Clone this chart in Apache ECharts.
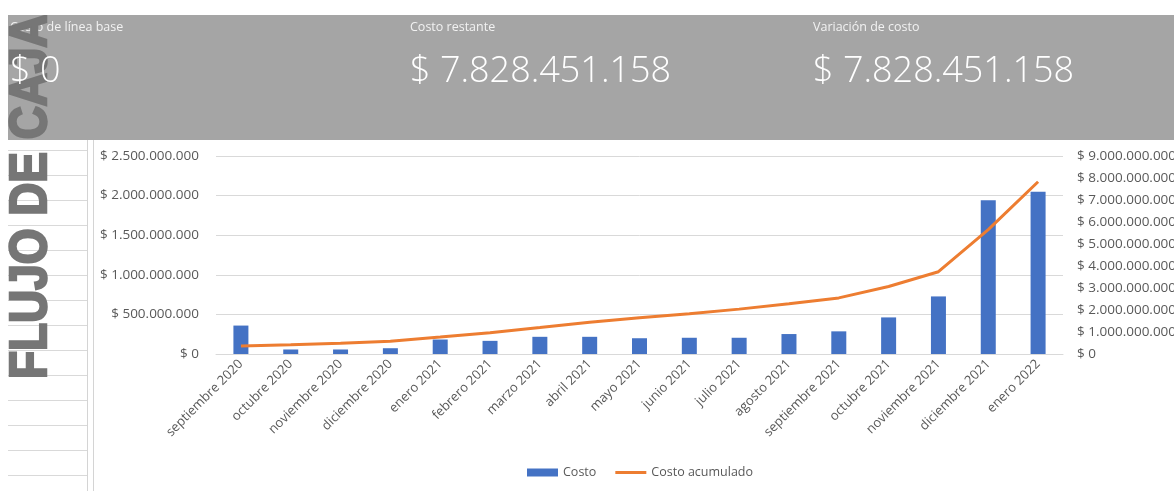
<!DOCTYPE html>
<html>
<head>
<meta charset="utf-8">
<script src="https://cdn.jsdelivr.net/npm/echarts@6/dist/echarts.min.js"></script>
<style>
html,body{margin:0;padding:0;background:#fff;}
#chart{width:1174px;height:491px;}
</style>
</head>
<body>
<div id="chart"></div>
<script>
const categories = ['septiembre 2020','octubre 2020','noviembre 2020','diciembre 2020','enero 2021','febrero 2021','marzo 2021','abril 2021','mayo 2021','junio 2021','julio 2021','agosto 2021','septiembre 2021','octubre 2021','noviembre 2021','diciembre 2021','enero 2022'];
const costo = [359e6, 57e6, 57e6, 73e6, 183e6, 166e6, 217e6, 217e6, 199e6, 205e6, 205e6, 252e6, 286e6, 462e6, 727e6, 1940e6, 2050e6];
const costoAcumulado = [0.36e9, 0.42e9, 0.49e9, 0.58e9, 0.77e9, 0.97e9, 1.20e9, 1.44e9, 1.65e9, 1.83e9, 2.04e9, 2.28e9, 2.55e9, 3.07e9, 3.74e9, 5.65e9, 7.828451158e9];
const seriesNames = ['Costo', 'Costo acumulado'];
const headerLabels = ['Costo de línea base', 'Costo restante', 'Variación de costo'];
const headerValues = ['$ 0', '$ 7.828.451.158', '$ 7.828.451.158'];
const sideTitle = 'FLUJO DE CAJA';

function fmt(v){ return '$ ' + Math.round(v).toString().replace(/\B(?=(\d{3})+(?!\d))/g, '.'); }

const chart = echarts.init(document.getElementById('chart'), null, {renderer:'canvas'});

const graphics = [];
graphics.push({type:'rect', z:-20, shape:{x:8, y:15, width:1166, height:125}, style:{fill:'#a5a5a5'}});
for (let k = 0; k < 14; k++) {
  const y = 150.5 + 25 * k;
  graphics.push({type:'line', z:-15, shape:{x1:8, y1:y, x2:87, y2:y}, style:{stroke:'#d9d9d9', lineWidth:1}});
}
graphics.push({type:'line', z:-15, shape:{x1:87.5, y1:140, x2:87.5, y2:491}, style:{stroke:'#d4d4d4', lineWidth:1}});
graphics.push({type:'line', z:-15, shape:{x1:93.5, y1:140, x2:93.5, y2:491}, style:{stroke:'#d4d4d4', lineWidth:1}});
const hx = [10, 410, 813];
headerLabels.forEach((t, i) => {
  graphics.push({type:'text', z:-12, x:hx[i], y:27, style:{text:t, fill:'#f2f2f2', fontSize:12.5, fontFamily:'Open Sans', align:'left', verticalAlign:'middle'}});
});
graphics.push({type:'text', z:-10, x:31.5, y:379, rotation:Math.PI/2, scaleX:0.9,
  style:{text:sideTitle, fill:'#767676', stroke:'#767676', lineWidth:2.5, fontSize:51, fontWeight:'bold', fontFamily:'Liberation Sans', align:'left', verticalAlign:'middle'}});
headerValues.forEach((t, i) => {
  graphics.push({type:'text', z:-8, x:hx[i], y:72, style:{text:t, fill:'#ffffff', fontSize:36, fontWeight:300, fontFamily:'Open Sans', align:'left', verticalAlign:'middle'}});
});
graphics.push({type:'rect', z:-5, shape:{x:0, y:0, width:1174, height:15}, style:{fill:'#ffffff'}});

const option = {
  animation:false,
  backgroundColor:'#ffffff',
  graphic: graphics,
  grid:{left:216, right:111, top:156, bottom:137, containLabel:false, outerBoundsMode:'none'},
  legend:{
    left:527, top:466, padding:0, itemWidth:31, itemHeight:8, itemGap:19,
    textStyle:{color:'#595959', fontSize:12.5, fontFamily:'Open Sans'},
    data:[{name:seriesNames[0], icon:'rect'}, {name:seriesNames[1], icon:'path://M0,0 M0,8 M0,2.5 L31,2.5 L31,5.5 L0,5.5 Z'}]
  },
  xAxis:{
    type:'category', data:categories, boundaryGap:true,
    axisLine:{show:true, lineStyle:{color:'#d9d9d9', width:1}},
    axisTick:{show:false},
    axisLabel:{rotate:45, interval:0, color:'#595959', fontSize:13, fontFamily:'Open Sans', margin:8}
  },
  yAxis:[
    {type:'value', min:0, max:2.5e9, interval:5e8, position:'left',
      axisLine:{show:false}, axisTick:{show:false},
      axisLabel:{formatter:fmt, color:'#595959', fontSize:13.5, fontFamily:'Open Sans', margin:17},
      splitLine:{show:true, lineStyle:{color:'#d9d9d9', width:1}}},
    {type:'value', min:0, max:9e9, interval:1e9, position:'right',
      axisLine:{show:false}, axisTick:{show:false},
      axisLabel:{formatter:fmt, color:'#595959', fontSize:13.5, fontFamily:'Open Sans', margin:14},
      splitLine:{show:false}}
  ],
  series:[
    {name:seriesNames[0], type:'bar', data:costo, barWidth:15, itemStyle:{color:'#4472c4'}, z:2},
    {name:seriesNames[1], type:'line', yAxisIndex:1, data:costoAcumulado, symbol:'none', showSymbol:false, smooth:false,
      lineStyle:{color:'#ed7d31', width:3}, itemStyle:{color:'#ed7d31'}, z:3}
  ]
};
chart.setOption(option);
</script>
</body>
</html>
